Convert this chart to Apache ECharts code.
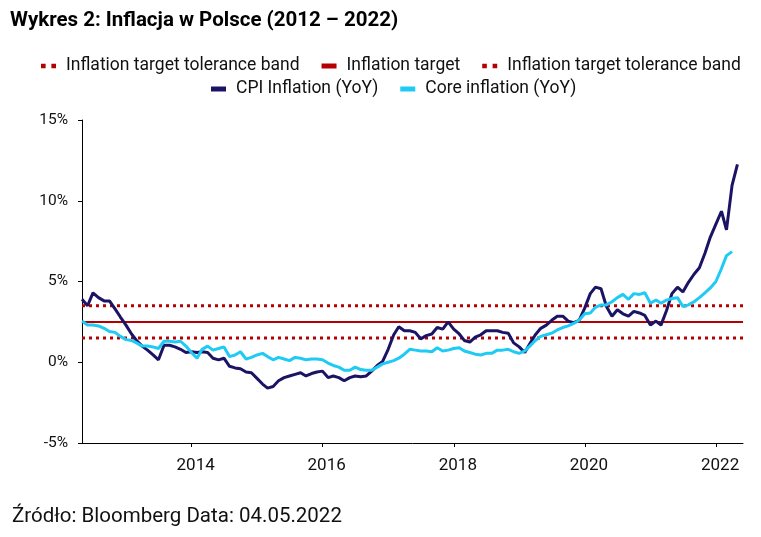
<!DOCTYPE html>
<html>
<head>
<meta charset="utf-8">
<script src="https://cdn.jsdelivr.net/npm/echarts@6/dist/echarts.min.js"></script>
<style>
  html, body { margin: 0; padding: 0; background: #fff; }
  #chart { width: 761px; height: 537px; }
</style>
</head>
<body>
<div id="chart"></div>
<script>
// first month of data: April 2012 (Bloomberg end-of-month points)
const firstYear = 2012
const firstMonth = 4

// CPI Inflation (YoY), Apr 2012 - Apr 2022
const cpi = [
  3.9, 3.5, 4.3, 4.0, 3.8, 3.8, 3.3, 2.8, 2.3,
  1.75, 1.35, 1.0, 0.75, 0.45, 0.15, 1.05, 1.05, 0.95, 0.8, 0.6, 0.65,
  0.6, 0.65, 0.6, 0.25, 0.15, 0.25, -0.25, -0.35, -0.4, -0.6, -0.65, -1.0,
  -1.35, -1.6, -1.5, -1.15, -0.95, -0.85, -0.75, -0.65, -0.85, -0.7, -0.6, -0.55,
  -0.95, -0.85, -0.95, -1.15, -0.95, -0.85, -0.9, -0.85, -0.55, -0.2, 0.05, 0.8,
  1.7, 2.2, 1.95, 1.95, 1.85, 1.45, 1.65, 1.75, 2.15, 2.05, 2.5, 2.05,
  1.75, 1.35, 1.25, 1.55, 1.7, 1.95, 1.95, 1.95, 1.85, 1.8, 1.2, 0.95,
  0.6, 1.15, 1.7, 2.1, 2.3, 2.6, 2.85, 2.85, 2.55, 2.45, 2.6, 3.35,
  4.25, 4.65, 4.55, 3.45, 2.85, 3.25, 3.0, 2.85, 3.15, 3.05, 2.9, 2.3,
  2.55, 2.3, 3.2, 4.25, 4.65, 4.35, 4.95, 5.45, 5.85, 6.75, 7.75, 8.55,
  9.35, 8.2, 10.95, 12.25
]

// Core inflation (YoY), Apr 2012 - Mar 2022
const core = [
  2.55, 2.3, 2.3, 2.25, 2.1, 1.9, 1.85, 1.6, 1.4,
  1.35, 1.2, 1.0, 1.0, 0.95, 0.85, 1.3, 1.3, 1.25, 1.3, 1.0, 0.6,
  0.25, 0.8, 1.0, 0.75, 0.85, 0.95, 0.35, 0.45, 0.65, 0.2, 0.3, 0.45,
  0.55, 0.35, 0.15, 0.3, 0.2, 0.1, 0.3, 0.25, 0.15, 0.2, 0.2, 0.15,
  -0.05, -0.2, -0.3, -0.5, -0.5, -0.3, -0.45, -0.5, -0.5, -0.3, -0.1, 0.0,
  0.1, 0.25, 0.5, 0.8, 0.75, 0.7, 0.7, 0.65, 0.9, 0.7, 0.75, 0.85,
  0.9, 0.7, 0.6, 0.5, 0.45, 0.55, 0.55, 0.75, 0.75, 0.8, 0.65, 0.55,
  0.7, 1.0, 1.35, 1.6, 1.7, 1.8, 2.0, 2.15, 2.25, 2.4, 2.6, 3.0,
  3.05, 3.4, 3.55, 3.55, 3.75, 4.0, 4.2, 3.9, 4.25, 4.2, 4.3, 3.65,
  3.85, 3.65, 3.85, 3.95, 4.0, 3.45, 3.55, 3.75, 4.0, 4.3, 4.6, 5.0,
  5.8, 6.6, 6.85
]

const inflationTarget = 2.5
const toleranceLow = 1.5
const toleranceHigh = 3.5
const yearTicks = [2014, 2016, 2018, 2020, 2022]
const yTicks = [-5, 0, 5, 10, 15]

const axisStart = new Date(2012, 3, 30).getTime()
const axisEnd = new Date(2022, 4, 31).getTime()

const monthEnd = i => new Date(firstYear, firstMonth + i, 0).getTime()
const toSeries = arr => arr.map((v, i) => [monthEnd(i), v])
const flat = v => [[axisStart, v], [axisEnd, v]]
const yearStarts = yearTicks.map(y => new Date(y, 0, 1).getTime())

const font = 'Roboto, "Noto Sans", sans-serif'
const red = '#B40000'
const navy = '#1B1464'
const cyan = '#1FCAF5'
const dotsIcon = 'path://M0,0H4V4H0Z M9,0H13V4H9Z'

const chart = echarts.init(document.getElementById('chart'))
chart.setOption({
  animation: false,
  textStyle: { fontFamily: font },
  title: [
    {
      text: 'Wykres 2: Inflacja w Polsce (2012 – 2022)',
      left: 5, top: 5,
      textStyle: { fontSize: 20.5, fontWeight: 'bold', color: '#000', fontFamily: font }
    },
    {
      text: 'Źródło: Bloomberg Data: 04.05.2022',
      left: 7, top: 501,
      textStyle: { fontSize: 20.5, fontWeight: 'normal', color: '#111', fontFamily: font }
    }
  ],
  legend: [
    {
      top: 52, left: 36,
      itemWidth: 15, itemHeight: 5, itemGap: 22,
      textStyle: { fontSize: 17.5, color: '#111', padding: [0, 0, 0, 5] },
      data: [
        { name: 'Inflation target tolerance band', icon: dotsIcon },
        { name: 'Inflation target', icon: 'rect' },
        { name: 'Inflation target tolerance band ', icon: dotsIcon }
      ]
    },
    {
      top: 75, left: 206,
      itemWidth: 15, itemHeight: 5, itemGap: 22,
      textStyle: { fontSize: 17.5, color: '#111', padding: [0, 0, 0, 5] },
      data: [
        { name: 'CPI Inflation (YoY)', icon: 'rect' },
        { name: 'Core inflation (YoY)', icon: 'rect' }
      ]
    }
  ],
  grid: { left: 82, right: 18, top: 120, bottom: 94 },
  xAxis: {
    type: 'value',
    min: axisStart,
    max: axisEnd,
    axisLine: { onZero: false, lineStyle: { color: '#000', width: 1 } },
    axisTick: {
      show: true, length: 4, lineStyle: { color: '#000' },
      customValues: yearStarts
    },
    axisLabel: {
      fontSize: 17, color: '#111', margin: 14, padding: [0, 0, 0, 8],
      customValues: yearStarts,
      formatter: v => String(new Date(v).getFullYear())
    },
    splitLine: { show: false }
  },
  yAxis: {
    type: 'value',
    min: yTicks[0],
    max: yTicks[yTicks.length - 1],
    interval: 5,
    axisLine: { show: true, lineStyle: { color: '#000', width: 1 } },
    axisTick: { show: true, length: 4, lineStyle: { color: '#000' } },
    axisLabel: { fontSize: 15.5, color: '#111', margin: 14, formatter: '{value}%' },
    splitLine: { show: false }
  },
  series: [
    {
      name: 'Inflation target tolerance band',
      type: 'line', symbol: 'none', silent: true,
      color: red,
      lineStyle: { color: red, width: 3, type: [3, 4] },
      data: flat(toleranceHigh), z: 1
    },
    {
      name: 'Inflation target',
      type: 'line', symbol: 'none', silent: true,
      color: red,
      lineStyle: { color: red, width: 2 },
      data: flat(inflationTarget), z: 1
    },
    {
      name: 'Inflation target tolerance band ',
      type: 'line', symbol: 'none', silent: true,
      color: red,
      lineStyle: { color: red, width: 3, type: [3, 4] },
      data: flat(toleranceLow), z: 1
    },
    {
      name: 'CPI Inflation (YoY)',
      type: 'line', symbol: 'none',
      color: navy,
      lineStyle: { color: navy, width: 3 },
      data: toSeries(cpi), z: 2
    },
    {
      name: 'Core inflation (YoY)',
      type: 'line', symbol: 'none',
      color: cyan,
      lineStyle: { color: cyan, width: 3 },
      data: toSeries(core), z: 3
    }
  ]
})
window.addEventListener('resize', () => chart.resize())
</script>
</body>
</html>
